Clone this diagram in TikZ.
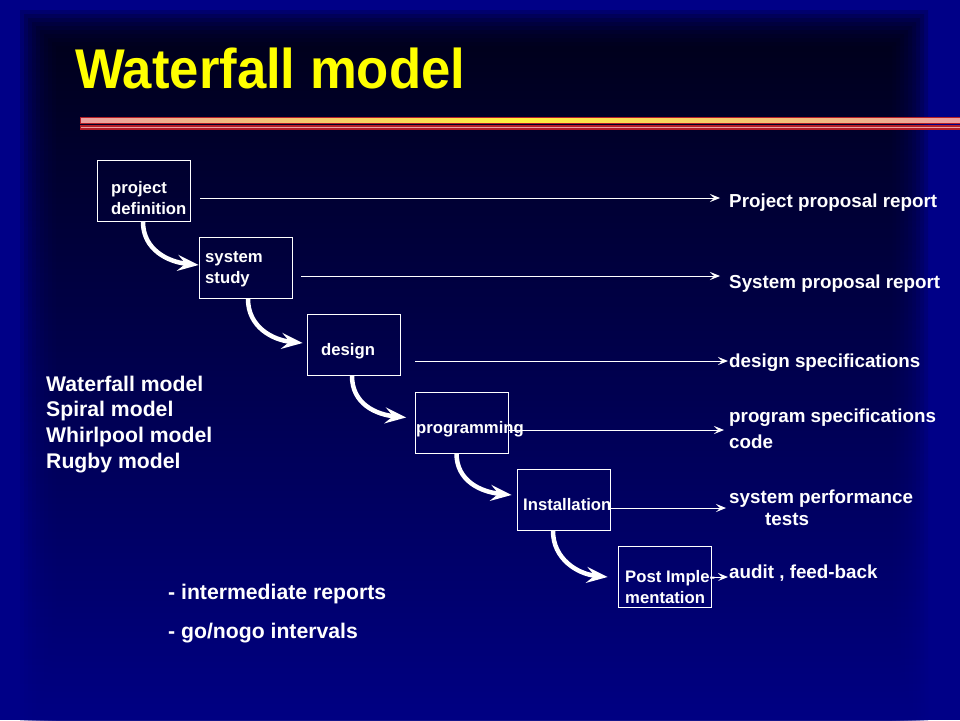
\documentclass[tikz,border=0pt]{standalone}
\usepackage{fontspec}
\setmainfont{Liberation Sans}
\usetikzlibrary{arrows.meta,calc}
\definecolor{edgeblue}{RGB}{0,0,135}
\definecolor{darkbg}{RGB}{2,2,20}
\definecolor{midbg}{RGB}{4,4,50}
\definecolor{lowbg}{RGB}{0,0,132}
\definecolor{titleyellow}{RGB}{255,255,0}
\definecolor{barred}{RGB}{180,30,40}
\definecolor{barpink}{RGB}{235,160,160}
\definecolor{baryellow}{RGB}{255,240,60}
\tikzset{
  stagebox/.style={draw=white, line width=0.9pt, minimum width=93pt, minimum height=61pt, inner sep=0pt},
  boxtext/.style={text=white, anchor=mid west, inner sep=0pt, font=\fontsize{16.7}{19}\selectfont\bfseries},
  reporttext/.style={text=white, anchor=mid west, inner sep=0pt, font=\fontsize{18.8}{22}\selectfont\bfseries},
  listtext/.style={text=white, anchor=mid west, inner sep=0pt, font=\fontsize{21.2}{24}\selectfont\bfseries},
  flowarrow/.style={draw=white, line width=4.5pt, -{Stealth[length=21pt,width=16pt,inset=8pt]}},
  outarrow/.style={draw=white, line width=1pt, -{Stealth[length=10pt,width=8pt,inset=4pt]}}
}
\begin{document}
\begin{tikzpicture}[x=1pt,y=-1pt]
\useasboundingbox (0,0) rectangle (960,720);
% background
\fill[edgeblue] (0,0) rectangle (960,720);
\foreach \i in {0,...,9}{
  \shade[top color=darkbg, middle color=midbg, bottom color=lowbg, opacity=0.22]
    (20+4*\i,10+4*\i) rectangle (928-4*\i,725);
}
% title
\node[anchor=base west, inner sep=0pt, text=titleyellow, font=\fontsize{56}{62}\selectfont\bfseries] (title) at (75,88) {\scalebox{0.94}[1]{Waterfall model}};
% decorative bars
\fill[barred] (80,116.5) rectangle (960,124);
\shade[left color=barpink, right color=barpink, middle color=baryellow] (81,118) rectangle (960,122.5);
\fill[barred] (80,125.3) rectangle (960,129.7);
\fill[barpink] (81,126.7) rectangle (960,128.3);
% stage boxes
\node[stagebox] (b1) at (143.5,191) {};
\node[stagebox] (b2) at (245.5,268) {};
\node[stagebox] (b3) at (353.5,345) {};
\node[stagebox] (b4) at (462,422.5) {};
\node[stagebox] (b5) at (563.5,500) {};
\node[stagebox] (b6) at (664.5,577) {};
% box texts
\node[boxtext] (t1a) at (111,190.5) {project};
\node[boxtext] (t1b) at (111,211.5) {definition};
\node[boxtext] (t2a) at (205,259.5) {system};
\node[boxtext] (t2b) at (205,280.5) {study};
\node[boxtext] (t3) at (321,352.5) {design};
\node[boxtext] (t4) at (416,430.5) {programming};
\node[boxtext] (t5) at (523,507.5) {Installation};
\node[boxtext] (t6a) at (625,579.5) {Post Imple-};
\node[boxtext] (t6b) at (625,600.5) {mentation};
% report texts
\node[reporttext] (r1) at (729,204.5) {Project proposal report};
\node[reporttext] (r2) at (729,285.5) {System proposal report};
\node[reporttext] (r3) at (729,364.5) {design specifications};
\node[reporttext] (r4a) at (729,419.5) {program specifications};
\node[reporttext] (r4b) at (729,445.5) {code};
\node[reporttext] (r5a) at (729,500.5) {system performance};
\node[reporttext] (r5b) at (765,522.5) {tests};
\node[reporttext] (r6) at (729,575.5) {audit , feed-back};
% left list
\node[listtext] (l1) at (46,388.5) {Waterfall model};
\node[listtext] (l2) at (46,413.5) {Spiral model};
\node[listtext] (l3) at (46,439.5) {Whirlpool model};
\node[listtext] (l4) at (46,465.5) {Rugby model};
% bottom notes
\node[listtext] (n1) at (168,596.5) {- intermediate reports};
\node[listtext] (n2) at (168,635.5) {- go/nogo intervals};
% output arrows
\coordinate (s1) at ($(b1.east)+(10,7)$);
\coordinate (s2) at ($(b2.east)+(9,8)$);
\coordinate (s3) at ($(b3.east)+(15,16)$);
\coordinate (s4) at ($(b4.east)+(0,7.5)$);
\coordinate (s5) at ($(b5.east)+(0,8)$);
\coordinate (s6) at ($(b6.east)+(0,0)$);
\draw[outarrow] (s1) -- ([xshift=-9pt]s1 -| r1.west);
\draw[outarrow] (s2) -- ([xshift=-9pt]s2 -| r2.west);
\draw[outarrow] (s3) -- ([xshift=-1pt]s3 -| r3.west);
\draw[outarrow] (s4) -- ([xshift=-5pt]s4 -| r4a.west);
\draw[outarrow] (s5) -- ([xshift=-3pt]s5 -| r5a.west);
\draw[outarrow] (s6) -- ([xshift=-1pt]s6 -| r6.west);
% flow arrows
\draw[flowarrow] ($(b1.south)+(-0.5,0)$) .. controls +(0,28) and +(-30,-3) .. ($(b2.west)+(0,-3)$);
\draw[flowarrow] ($(b2.south)+(2.5,0)$) .. controls +(0,28) and +(-30,-3) .. ($(b3.west)+(-4,-2)$);
\draw[flowarrow] ($(b3.south)+(-1.5,0)$) .. controls +(0,28) and +(-30,-3) .. ($(b4.west)+(-9,-5)$);
\draw[flowarrow] ($(b4.south)+(-5.5,0)$) .. controls +(0,28) and +(-30,-3) .. ($(b5.west)+(-5,-5)$);
\draw[flowarrow] ($(b5.south)+(-10.5,0)$) .. controls +(0,28) and +(-30,-3) .. ($(b6.west)+(-10,0)$);
\end{tikzpicture}
\end{document}
